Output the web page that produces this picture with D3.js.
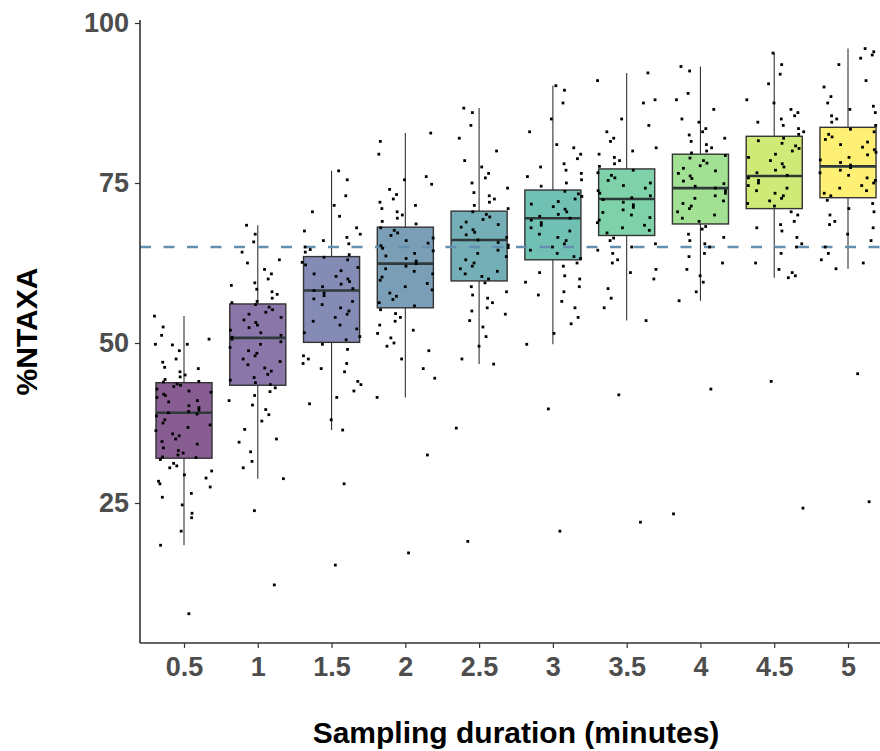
<!DOCTYPE html>
<html>
<head>
<meta charset="utf-8">
<script src="https://cdn.jsdelivr.net/npm/d3@7"></script>
<style>
  body { margin: 0; background: #fff; }
  text { font-family: Arial, "Liberation Sans", sans-serif; }
</style>
</head>
<body>
<script>
// sampling durations (minutes)
var durations = ["0.5", "1", "1.5", "2", "2.5", "3", "3.5", "4", "4.5", "5"];

// box stats (%NTAXA)
var q1      = [32.0, 43.4, 50.1, 55.5, 59.7, 63.0, 66.8, 68.6, 71.0, 72.7];
var medians = [39.1, 50.8, 58.2, 62.4, 66.1, 69.5, 72.5, 74.2, 76.1, 77.6];
var q3      = [43.8, 56.1, 63.5, 68.1, 70.6, 73.9, 77.2, 79.5, 82.3, 83.7];
var whiskLo = [18.4, 28.8, 36.4, 41.5, 46.7, 49.8, 53.5, 56.6, 60.2, 61.6];
var whiskHi = [54.2, 68.4, 76.9, 82.8, 86.7, 90.2, 92.2, 93.2, 95.3, 96.0];

var threshold = 65;
var yTicks = [25, 50, 75, 100];

// individual samples per duration
var pts05 = [54.2, 52.5, 51.2, 50.6, 49.8, 49.8, 49.7, 48.8, 47.5, 47.0, 46.0, 46.2, 45.5, 45.0, 44.7, 44.3, 44.0, 43.9,
  43.6, 43.4, 43.2, 42.8, 42.5, 42.3, 42.0, 41.8, 41.5, 41.0, 40.8, 40.2, 39.9, 39.5, 39.3, 39.1, 38.9, 38.6, 38.0, 37.5,
  37.2, 36.8, 36.3, 35.8, 35.5, 35.0, 34.6, 34.2, 33.6, 33.2, 32.8, 32.5, 32.2, 32.1,
  31.8, 31.2, 30.8, 30.5, 30.0, 29.4, 28.9, 28.4, 28.0, 27.5, 26.5, 25.9, 24.7, 23.4, 22.7, 20.6, 18.4, 7.7];
var pts1 = [68.4, 67.0, 65.8, 64.2, 63.0, 62.5, 61.5, 60.8, 60.0, 59.4, 59.0, 58.4, 58.0, 57.6, 57.0, 56.5, 56.3,
  56.0, 55.6, 55.2, 54.8, 54.5, 54.0, 53.6, 53.2, 52.8, 52.4, 52.0, 51.6, 51.2, 50.9, 50.6, 50.2, 49.8, 49.3, 48.8,
  48.4, 48.0, 47.5, 47.1, 46.6, 46.1, 45.6, 45.1, 44.6, 44.2, 43.8, 43.5,
  43.0, 42.4, 41.8, 41.0, 40.3, 39.6, 38.8, 37.8, 36.5, 35.0, 34.5, 33.0, 31.5, 30.5, 28.8, 23.8, 12.2];
var pts15 = [76.9, 75.5, 73.0, 71.5, 70.5, 69.8, 68.0, 67.5, 67.0, 66.5, 66.0, 65.5, 65.0, 64.6, 64.2, 63.8,
  63.4, 63.0, 62.6, 62.2, 61.8, 61.3, 60.8, 60.4, 60.0, 59.6, 59.2, 58.8, 58.5, 58.2, 57.8, 57.4, 56.9, 56.5, 56.0,
  55.5, 55.0, 54.5, 54.0, 53.4, 52.8, 52.2, 51.6, 51.0, 50.5,
  49.8, 49.0, 48.0, 47.5, 46.8, 46.8, 46.0, 45.5, 44.0, 43.5, 42.5, 41.5, 40.5, 38.0, 36.4, 28.0, 15.3];
var pts2 = [82.8, 81.5, 79.5, 76.0, 75.5, 74.8, 74.0, 73.2, 72.5, 72.0, 71.5, 71.0, 70.5, 70.0, 69.5, 69.0, 68.6,
  68.0, 67.6, 67.2, 66.8, 66.4, 66.0, 65.6, 65.2, 64.8, 64.4, 64.0, 63.6, 63.2, 62.8, 62.4, 62.0, 61.6, 61.2, 60.8,
  60.3, 59.8, 59.3, 58.8, 58.3, 57.8, 57.3, 56.8, 56.3, 55.8,
  55.2, 54.6, 54.0, 53.4, 52.8, 52.0, 51.5, 50.8, 50.0, 49.5, 48.8, 47.5, 46.0, 44.5, 41.5, 32.5, 17.2];
var pts25 = [86.7, 86.0, 84.0, 82.0, 80.0, 78.5, 77.5, 76.5, 75.8, 75.0, 74.2, 73.5, 73.0, 72.5, 72.0, 71.5, 71.0,
  70.5, 70.1, 69.7, 69.3, 68.9, 68.5, 68.1, 67.7, 67.3, 66.9, 66.5, 66.1, 65.7, 65.3, 64.9, 64.5, 64.0, 63.5, 63.0,
  62.5, 62.0, 61.6, 61.2, 60.8, 60.4, 60.0,
  59.4, 58.8, 58.0, 57.5, 57.0, 56.3, 55.5, 55.0, 54.5, 53.5, 52.5, 51.0, 49.5, 47.5, 46.7, 36.7, 19.0];
var pts3 = [90.2, 89.5, 87.5, 85.0, 83.0, 81.0, 80.5, 79.5, 78.8, 78.0, 77.5, 77.0, 76.5, 76.0, 75.5, 75.0, 74.5,
  73.7, 73.3, 72.9, 72.5, 72.1, 71.7, 71.3, 70.9, 70.5, 70.1, 69.8, 69.5, 69.2, 68.8, 68.4, 68.0, 67.5, 67.0, 66.5,
  66.0, 65.5, 65.0, 64.5, 64.0, 63.5, 63.2,
  62.5, 62.0, 61.0, 60.5, 60.0, 59.5, 58.8, 58.0, 57.5, 56.5, 55.5, 54.0, 53.0, 51.5, 49.8, 39.7, 20.6];
var pts35 = [92.2, 91.0, 88.0, 87.5, 85.0, 84.0, 83.0, 82.0, 81.5, 80.5, 80.0, 79.5, 79.0, 78.5, 78.0, 77.6,
  77.0, 76.6, 76.2, 75.8, 75.4, 75.0, 74.6, 74.2, 73.8, 73.4, 73.0, 72.7, 72.4, 72.0, 71.6, 71.2, 70.8, 70.4, 70.0,
  69.6, 69.2, 68.8, 68.4, 68.0, 67.6, 67.2,
  66.4, 66.0, 65.5, 65.0, 64.5, 64.0, 63.0, 62.5, 61.5, 61.0, 60.0, 58.5, 57.0, 55.5, 53.5, 41.9, 22.0];
var pts4 = [93.2, 92.5, 89.0, 88.0, 86.5, 85.0, 84.5, 83.5, 83.0, 82.5, 82.0, 81.5, 81.0, 80.5, 80.0, 79.7,
  79.3, 78.9, 78.5, 78.1, 77.7, 77.3, 76.9, 76.5, 76.1, 75.7, 75.3, 74.9, 74.5, 74.2, 73.8, 73.4, 73.0, 72.6, 72.2,
  71.8, 71.4, 71.0, 70.5, 70.0, 69.5, 69.0,
  68.2, 67.8, 67.0, 66.5, 66.0, 65.5, 65.0, 64.0, 63.5, 62.5, 61.5, 60.5, 59.5, 58.0, 56.6, 42.8, 23.3];
var pts45 = [95.3, 93.5, 92.0, 90.5, 88.0, 87.5, 86.5, 86.0, 85.5, 85.0, 84.5, 84.0, 83.5, 83.0, 82.6,
  82.0, 81.6, 81.2, 80.8, 80.4, 80.0, 79.5, 79.0, 78.5, 78.0, 77.5, 77.0, 76.6, 76.2, 75.8, 75.4, 75.0, 74.6, 74.2,
  73.8, 73.4, 73.0, 72.6, 72.2, 71.8, 71.4,
  70.5, 70.0, 69.0, 68.5, 68.0, 67.5, 66.5, 65.5, 65.0, 64.0, 62.5, 61.5, 61.0, 60.5, 60.2, 44.0, 24.2];
var pts5 = [96.0, 95.5, 95.0, 94.5, 93.5, 91.0, 90.0, 88.5, 87.5, 87.0, 86.5, 86.0, 85.5, 85.0, 84.5, 84.0,
  83.4, 83.0, 82.6, 82.2, 81.8, 81.4, 81.0, 80.6, 80.2, 79.8, 79.4, 79.0, 78.6, 78.2, 77.8, 77.4, 77.0, 76.6, 76.2,
  75.8, 75.4, 75.0, 74.6, 74.2, 73.8, 73.4, 73.0,
  72.3, 71.8, 71.0, 70.5, 70.0, 69.0, 68.5, 68.0, 67.0, 66.0, 65.0, 64.0, 63.0, 62.5, 61.6, 45.2, 25.2];

var samples = [pts05, pts1, pts15, pts2, pts25, pts3, pts35, pts4, pts45, pts5];

var width = 880, height = 751;
var panel = {left: 140, right: 892, top: 20, bottom: 643};

var svg = d3.select("body").append("svg")
    .attr("width", width)
    .attr("height", height);

var x = d3.scalePoint()
    .domain(durations)
    .range([184, 848]);

var y = d3.scaleLinear()
    .domain([0, 100])
    .range([663, 23]);

var step = x.step();
var boxW = step * 0.76;

var boxes = durations.map(function(d, i) {
    return {key: d, i: i, q1: q1[i], med: medians[i], q3: q3[i], lo: whiskLo[i], hi: whiskHi[i]};
});

var g = svg.append("g");

// whiskers
g.selectAll(".whisker-hi")
    .data(boxes)
    .enter().append("line")
    .attr("x1", function(d) { return x(d.key); })
    .attr("x2", function(d) { return x(d.key); })
    .attr("y1", function(d) { return y(d.q3); })
    .attr("y2", function(d) { return y(d.hi); })
    .attr("stroke", "#333")
    .attr("stroke-width", 1.1);

g.selectAll(".whisker-lo")
    .data(boxes)
    .enter().append("line")
    .attr("x1", function(d) { return x(d.key); })
    .attr("x2", function(d) { return x(d.key); })
    .attr("y1", function(d) { return y(d.q1); })
    .attr("y2", function(d) { return y(d.lo); })
    .attr("stroke", "#333")
    .attr("stroke-width", 1.1);

// boxes
g.selectAll("rect.box")
    .data(boxes)
    .enter().append("rect")
    .attr("class", "box")
    .attr("x", function(d) { return x(d.key) - boxW / 2; })
    .attr("width", boxW)
    .attr("y", function(d) { return y(d.q3); })
    .attr("height", function(d) { return y(d.q1) - y(d.q3); })
    .attr("fill", function(d) { return d3.interpolateViridis(d.i / 9); })
    .attr("fill-opacity", 0.64)
    .attr("stroke", "#333")
    .attr("stroke-width", 1.4);

// medians
g.selectAll(".median")
    .data(boxes)
    .enter().append("line")
    .attr("x1", function(d) { return x(d.key) - boxW / 2; })
    .attr("x2", function(d) { return x(d.key) + boxW / 2; })
    .attr("y1", function(d) { return y(d.med); })
    .attr("y2", function(d) { return y(d.med); })
    .attr("stroke", "#2e3a3a")
    .attr("stroke-width", 2.6);

// reference line
svg.append("line")
    .attr("x1", panel.left)
    .attr("x2", width)
    .attr("y1", y(threshold))
    .attr("y2", y(threshold))
    .attr("stroke", "#6390b0")
    .attr("stroke-width", 2.4)
    .attr("stroke-dasharray", "11,12.5");

// jittered points: quadratic Weyl spread across the box width (deterministic)
var points = [];
samples.forEach(function(vals, gi) {
    vals.forEach(function(v, j) {
        var f = (j * j * 0.41421356 + j * 0.7320508 + gi * 0.31) % 1;
        points.push({key: durations[gi], v: v, off: (f - 0.5) * 0.8});
    });
});

svg.selectAll("rect.pt")
    .data(points)
    .enter().append("rect")
    .attr("class", "pt")
    .attr("x", function(d) { return x(d.key) + d.off * step - 1.4; })
    .attr("y", function(d) { return y(d.v) - 1.4; })
    .attr("width", 2.8)
    .attr("height", 2.8)
    .attr("fill", "#000");

// axes
svg.append("line")
    .attr("x1", panel.left).attr("x2", panel.left)
    .attr("y1", panel.top).attr("y2", panel.bottom)
    .attr("stroke", "#333").attr("stroke-width", 1.6);
svg.append("line")
    .attr("x1", panel.left).attr("x2", width)
    .attr("y1", panel.bottom).attr("y2", panel.bottom)
    .attr("stroke", "#333").attr("stroke-width", 1.6);

var yAxis = svg.append("g")
    .attr("transform", "translate(" + panel.left + ",0)")
    .call(d3.axisLeft(y).tickValues(yTicks).tickSize(5).tickPadding(6));
yAxis.select(".domain").remove();

var xAxis = svg.append("g")
    .attr("transform", "translate(0," + panel.bottom + ")")
    .call(d3.axisBottom(x).tickSize(5).tickPadding(9));
xAxis.select(".domain").remove();

svg.selectAll(".tick line").attr("stroke", "#333").attr("stroke-width", 1.2);
svg.selectAll(".tick text")
    .attr("fill", "#4d4d4d")
    .style("font-family", "Arial, 'Liberation Sans', sans-serif")
    .style("font-size", "27px")
    .style("font-weight", "bold");

// axis titles
svg.append("text")
    .attr("x", (panel.left + panel.right) / 2)
    .attr("y", 743)
    .attr("text-anchor", "middle")
    .style("font-size", "30px")
    .style("font-weight", "bold")
    .attr("fill", "#000")
    .text("Sampling duration (minutes)");

svg.append("text")
    .attr("transform", "translate(37," + (panel.top + panel.bottom) / 2 + ") rotate(-90)")
    .attr("text-anchor", "middle")
    .style("font-size", "30px")
    .style("font-weight", "bold")
    .attr("fill", "#000")
    .text("%NTAXA");
</script>
</body>
</html>
